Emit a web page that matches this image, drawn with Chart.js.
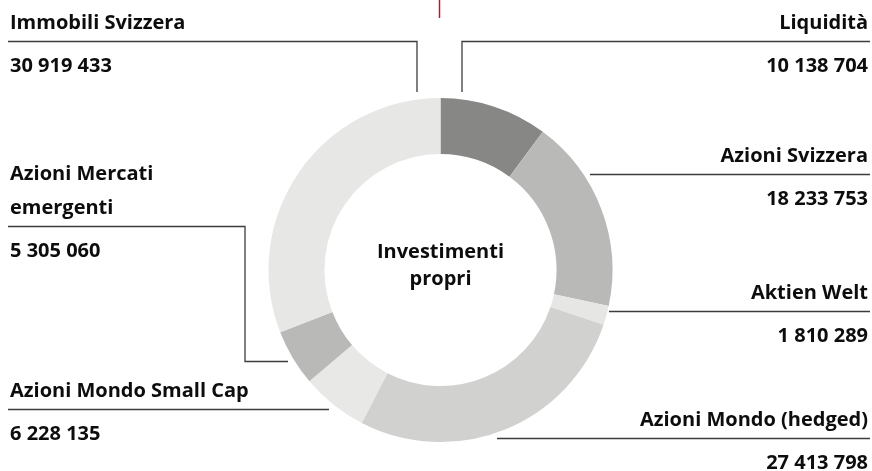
<!DOCTYPE html>
<html>
<head>
<meta charset="utf-8">
<title>Investimenti propri</title>
<script src="https://cdn.jsdelivr.net/npm/chart.js@4"></script>
<style>
    html, body { margin: 0; padding: 0; background: #fff; }
    #wrap { width: 872px; height: 471px; position: relative; }
</style>
</head>
<body>
<div id="wrap"><canvas id="chart" width="872" height="471"></canvas></div>
<script>
// Data (clockwise from 12 o'clock)
const categories = [
    'Liquidità',
    'Azioni Svizzera',
    'Aktien Welt',
    'Azioni Mondo (hedged)',
    'Azioni Mondo Small Cap',
    'Azioni Mercati emergenti',
    'Immobili Svizzera'
];
const values = [10138704, 18233753, 1810289, 27413798, 6228135, 5305060, 30919433];
const sliceColors = ['#878886', '#b9bab8', '#e6e7e5', '#d1d2d0', '#e8e9e7', '#b9bab8', '#e7e8e6'];
const centerTitle = ['Investimenti', 'propri'];

// Label placement: text lines, alignment, x, rule y and leader path
const labelLayout = [
    { lines: ['Liquidità'], align: 'right', x: 868, ruleY: 41.5, path: [[870, 41.5], [462, 41.5], [462, 92]] },
    { lines: ['Azioni Svizzera'], align: 'right', x: 868, ruleY: 174.5, path: [[870, 174.5], [590, 174.5]] },
    { lines: ['Aktien Welt'], align: 'right', x: 868, ruleY: 311.5, path: [[870, 311.5], [609, 311.5]] },
    { lines: ['Azioni Mondo (hedged)'], align: 'right', x: 868, ruleY: 438.5, path: [[870, 438.5], [497, 438.5]] },
    { lines: ['Azioni Mondo Small Cap'], align: 'left', x: 10, ruleY: 409.5, path: [[8, 409.5], [329, 409.5]] },
    { lines: ['Azioni Mercati', 'emergenti'], align: 'left', x: 10, ruleY: 226.5, path: [[8, 226.5], [245, 226.5], [245, 361.5], [288, 361.5]] },
    { lines: ['Immobili Svizzera'], align: 'left', x: 10, ruleY: 41.5, path: [[8, 41.5], [417, 41.5], [417, 92]] }
];

const FONT = 'bold 20px "Open Sans", Lato, sans-serif';

function formatNumber(n) {
    return String(n).replace(/\B(?=(\d{3})+(?!\d))/g, ' ');
}

const labelsPlugin = {
    id: 'sideLabels',
    afterDraw(chart) {
        const ctx = chart.ctx;
        ctx.save();

        // red tick at the top
        ctx.strokeStyle = '#c8102e';
        ctx.lineWidth = 1.5;
        ctx.beginPath();
        ctx.moveTo(439.5, 0);
        ctx.lineTo(439.5, 18);
        ctx.stroke();

        ctx.font = FONT;
        ctx.fillStyle = '#0d0d0d';
        ctx.textBaseline = 'alphabetic';

        labelLayout.forEach((lay, i) => {
            ctx.strokeStyle = '#3c3c3c';
            ctx.lineWidth = 1.3;
            ctx.beginPath();
            lay.path.forEach((p, j) => j === 0 ? ctx.moveTo(p[0], p[1]) : ctx.lineTo(p[0], p[1]));
            ctx.stroke();

            ctx.textAlign = lay.align;
            const n = lay.lines.length;
            lay.lines.forEach((line, j) => {
                ctx.fillText(line, lay.x, lay.ruleY - 13 - (n - 1 - j) * 34);
            });
            ctx.fillText(formatNumber(values[i]), lay.x, lay.ruleY + 30);
        });

        // centre title
        const meta = chart.getDatasetMeta(0).data[0];
        ctx.textAlign = 'center';
        ctx.fillText(centerTitle[0], meta.x, meta.y - 12);
        ctx.fillText(centerTitle[1], meta.x, meta.y + 15);
        ctx.restore();
    }
};

const ctx = document.getElementById('chart').getContext('2d');
new Chart(ctx, {
    type: 'doughnut',
    data: {
        labels: categories,
        datasets: [{
            data: values,
            backgroundColor: sliceColors,
            borderWidth: 0,
            hoverOffset: 0
        }]
    },
    options: {
        responsive: false,
        animation: false,
        radius: 172,
        cutout: 116,
        rotation: 0,
        layout: { padding: { top: 98, bottom: 29, left: 268.5, right: 259.5 } },
        plugins: {
            legend: { display: false },
            tooltip: { enabled: false }
        }
    },
    plugins: [labelsPlugin]
});
</script>
</body>
</html>
